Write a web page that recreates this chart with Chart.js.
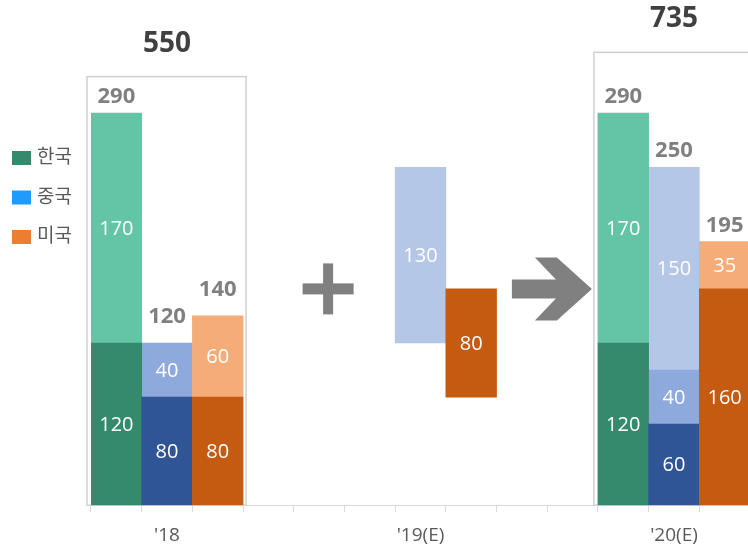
<!DOCTYPE html>
<html>
<head>
<meta charset="utf-8">
<script src="https://cdn.jsdelivr.net/npm/chart.js@4.4.1/dist/chart.umd.min.js"></script>
<style>
  html, body { margin: 0; padding: 0; overflow: hidden; background: #fff; }
  #wrap { width: 760px; height: 560px; position: relative; }
</style>
</head>
<body>
<div id="wrap"><canvas id="chart"></canvas></div>
<script>
const years = ["'18", "'19(E)", "'20(E)"];
const countries = ['한국', '중국', '미국'];

// 막대 조각 값 (아래 -> 위)
const korea18 = [120, 170];
const china18 = [80, 40];
const us18 = [80, 60];
const china19 = [130];
const us19 = [80];
const korea20 = [120, 170];
const china20 = [60, 40, 150];
const us20 = [160, 35];
// '19 증가분이 떠 있는 시작값
const china19Start = 120;
const us19Start = 80;

const koreaDark = '#358A6E', koreaLight = '#63C5A5';
const chinaDark = '#2F5597', chinaMid = '#8EA9DB', chinaLight = '#B4C7E7';
const usDark = '#C55A11', usLight = '#F4AC79';
const legendColors = ['#358A6E', '#1E9BFF', '#ED7D31'];

const bars = [
  { year: 0, country: 0, start: 0, parts: korea18, fill: [koreaDark, koreaLight] },
  { year: 0, country: 1, start: 0, parts: china18, fill: [chinaDark, chinaMid] },
  { year: 0, country: 2, start: 0, parts: us18, fill: [usDark, usLight] },
  { year: 1, country: 1, start: china19Start, parts: china19, fill: [chinaLight] },
  { year: 1, country: 2, start: us19Start, parts: us19, fill: [usDark] },
  { year: 2, country: 0, start: 0, parts: korea20, fill: [koreaDark, koreaLight] },
  { year: 2, country: 1, start: 0, parts: china20, fill: [chinaDark, chinaMid, chinaLight] },
  { year: 2, country: 2, start: 0, parts: us20, fill: [usDark, usLight] },
];

const sum = a => a.reduce((s, v) => s + v, 0);
const slotsPerYear = 5;
const slotCount = (years.length - 1) * slotsPerYear + countries.length;
const slotOf = b => b.year * slotsPerYear + b.country;

const labels = Array.from({ length: slotCount }, (_, i) =>
  i % slotsPerYear === 1 ? years[Math.floor(i / slotsPerYear)] : '');

// 층별 데이터셋 (floating bar)
const layerCount = Math.max(...bars.map(b => b.parts.length));
const datasets = [];
for (let L = 0; L < layerCount; L++) {
  const data = Array(slotCount).fill(null);
  const bg = Array(slotCount).fill('rgba(0,0,0,0)');
  bars.forEach(b => {
    if (L >= b.parts.length) return;
    const lo = b.start + sum(b.parts.slice(0, L));
    data[slotOf(b)] = [lo, lo + b.parts[L]];
    bg[slotOf(b)] = b.fill[L];
  });
  datasets.push({
    data, backgroundColor: bg, borderWidth: 0,
    grouped: false, barPercentage: 1, categoryPercentage: 1
  });
}

// 총합 있는 연도: '18, '20
const yearTotals = years.map((_, y) =>
  y === 1 ? null : sum(bars.filter(b => b.year === y).map(b => b.start + sum(b.parts))));
const boxTopValue = [317, null, 335];

const FONT = "'Open Sans', 'Noto Sans CJK KR', sans-serif";

const decor = {
  id: 'decor',
  beforeDatasetsDraw(chart) {
    const { ctx, scales: { x, y } } = chart;
    const half = (x.getPixelForValue(1) - x.getPixelForValue(0)) / 2;
    ctx.save();
    ctx.strokeStyle = '#D0D0D0';
    ctx.lineWidth = 1.5;
    yearTotals.forEach((t, yr) => {
      if (t == null) return;
      const l = x.getPixelForValue(yr * slotsPerYear) - half - 4;
      const r = x.getPixelForValue(yr * slotsPerYear + 2) + half + 3;
      const top = y.getPixelForValue(boxTopValue[yr]);
      ctx.strokeRect(l, top, r - l, y.bottom - top);
    });
    ctx.restore();
  },
  afterDatasetsDraw(chart) {
    const { ctx, scales: { x, y } } = chart;
    ctx.save();
    ctx.textAlign = 'center';
    ctx.textBaseline = 'middle';

    // 막대 안 값
    ctx.fillStyle = '#FFFFFF';
    ctx.font = '20px ' + FONT;
    chart.data.datasets.forEach((ds, di) => {
      chart.getDatasetMeta(di).data.forEach((el, i) => {
        const v = ds.data[i];
        if (!v) return;
        ctx.fillText(String(v[1] - v[0]), el.x, (el.y + el.base) / 2 + 1);
      });
    });

    // 막대 위 합계
    ctx.fillStyle = '#808080';
    ctx.font = 'bold 22px ' + FONT;
    bars.forEach(b => {
      if (yearTotals[b.year] == null) return;
      const total = b.start + sum(b.parts);
      const lift = (b.year === 0 && b.country > 0) ? 26 : 16;
      ctx.fillText(String(total), x.getPixelForValue(slotOf(b)), y.getPixelForValue(total) - lift);
    });

    // 연도 합계
    ctx.fillStyle = '#404040';
    ctx.font = 'bold 28px ' + FONT;
    yearTotals.forEach((t, yr) => {
      if (t == null) return;
      ctx.fillText(String(t), x.getPixelForValue(yr * slotsPerYear + 1),
        y.getPixelForValue(boxTopValue[yr]) - 33);
    });

    // + 기호
    ctx.fillStyle = '#808080';
    const pcx = x.getPixelForValue(4) + 9, pcy = y.getPixelForValue(160);
    ctx.fillRect(pcx - 25.5, pcy - 5.5, 51, 11);
    ctx.fillRect(pcx - 5, pcy - 25.5, 10, 51);

    // 화살표
    const ax = x.getPixelForValue(8) - 10, ay = y.getPixelForValue(160);
    const pts = [[0, -9.5], [44, -9.5], [23, -31.5], [45, -31.5], [80, 0],
                 [45, 31.5], [23, 31.5], [44, 9.5], [0, 9.5]];
    ctx.beginPath();
    pts.forEach(([dx, dy], i) => i ? ctx.lineTo(ax + dx, ay + dy) : ctx.moveTo(ax + dx, ay + dy));
    ctx.closePath();
    ctx.fill();

    // 범례
    ctx.textAlign = 'left';
    ctx.font = '19px ' + FONT;
    countries.forEach((c, i) => {
      const cy = 158 + i * 39.5;
      ctx.fillStyle = legendColors[i];
      ctx.fillRect(12, cy - 7, 19, 14);
      ctx.fillStyle = '#595959';
      ctx.fillText(c, 37, cy);
    });
    ctx.restore();
  }
};

new Chart(document.getElementById('chart'), {
  type: 'bar',
  data: { labels, datasets },
  options: {
    responsive: true,
    maintainAspectRatio: false,
    animation: false,
    layout: { padding: { left: 91, right: 10, top: 5, bottom: 1 } },
    plugins: { legend: { display: false }, tooltip: { enabled: false } },
    scales: {
      x: {
        grid: { display: true, drawOnChartArea: false, drawTicks: true, tickLength: 7, color: '#D9D9D9', offset: true },
        border: { color: '#D9D9D9' },
        ticks: { autoSkip: false, maxRotation: 0, padding: 12, color: '#595959', font: { family: FONT, size: 19 } }
      },
      y: { display: false, min: 0, max: 370 }
    }
  },
  plugins: [decor]
});
</script>
</body>
</html>
